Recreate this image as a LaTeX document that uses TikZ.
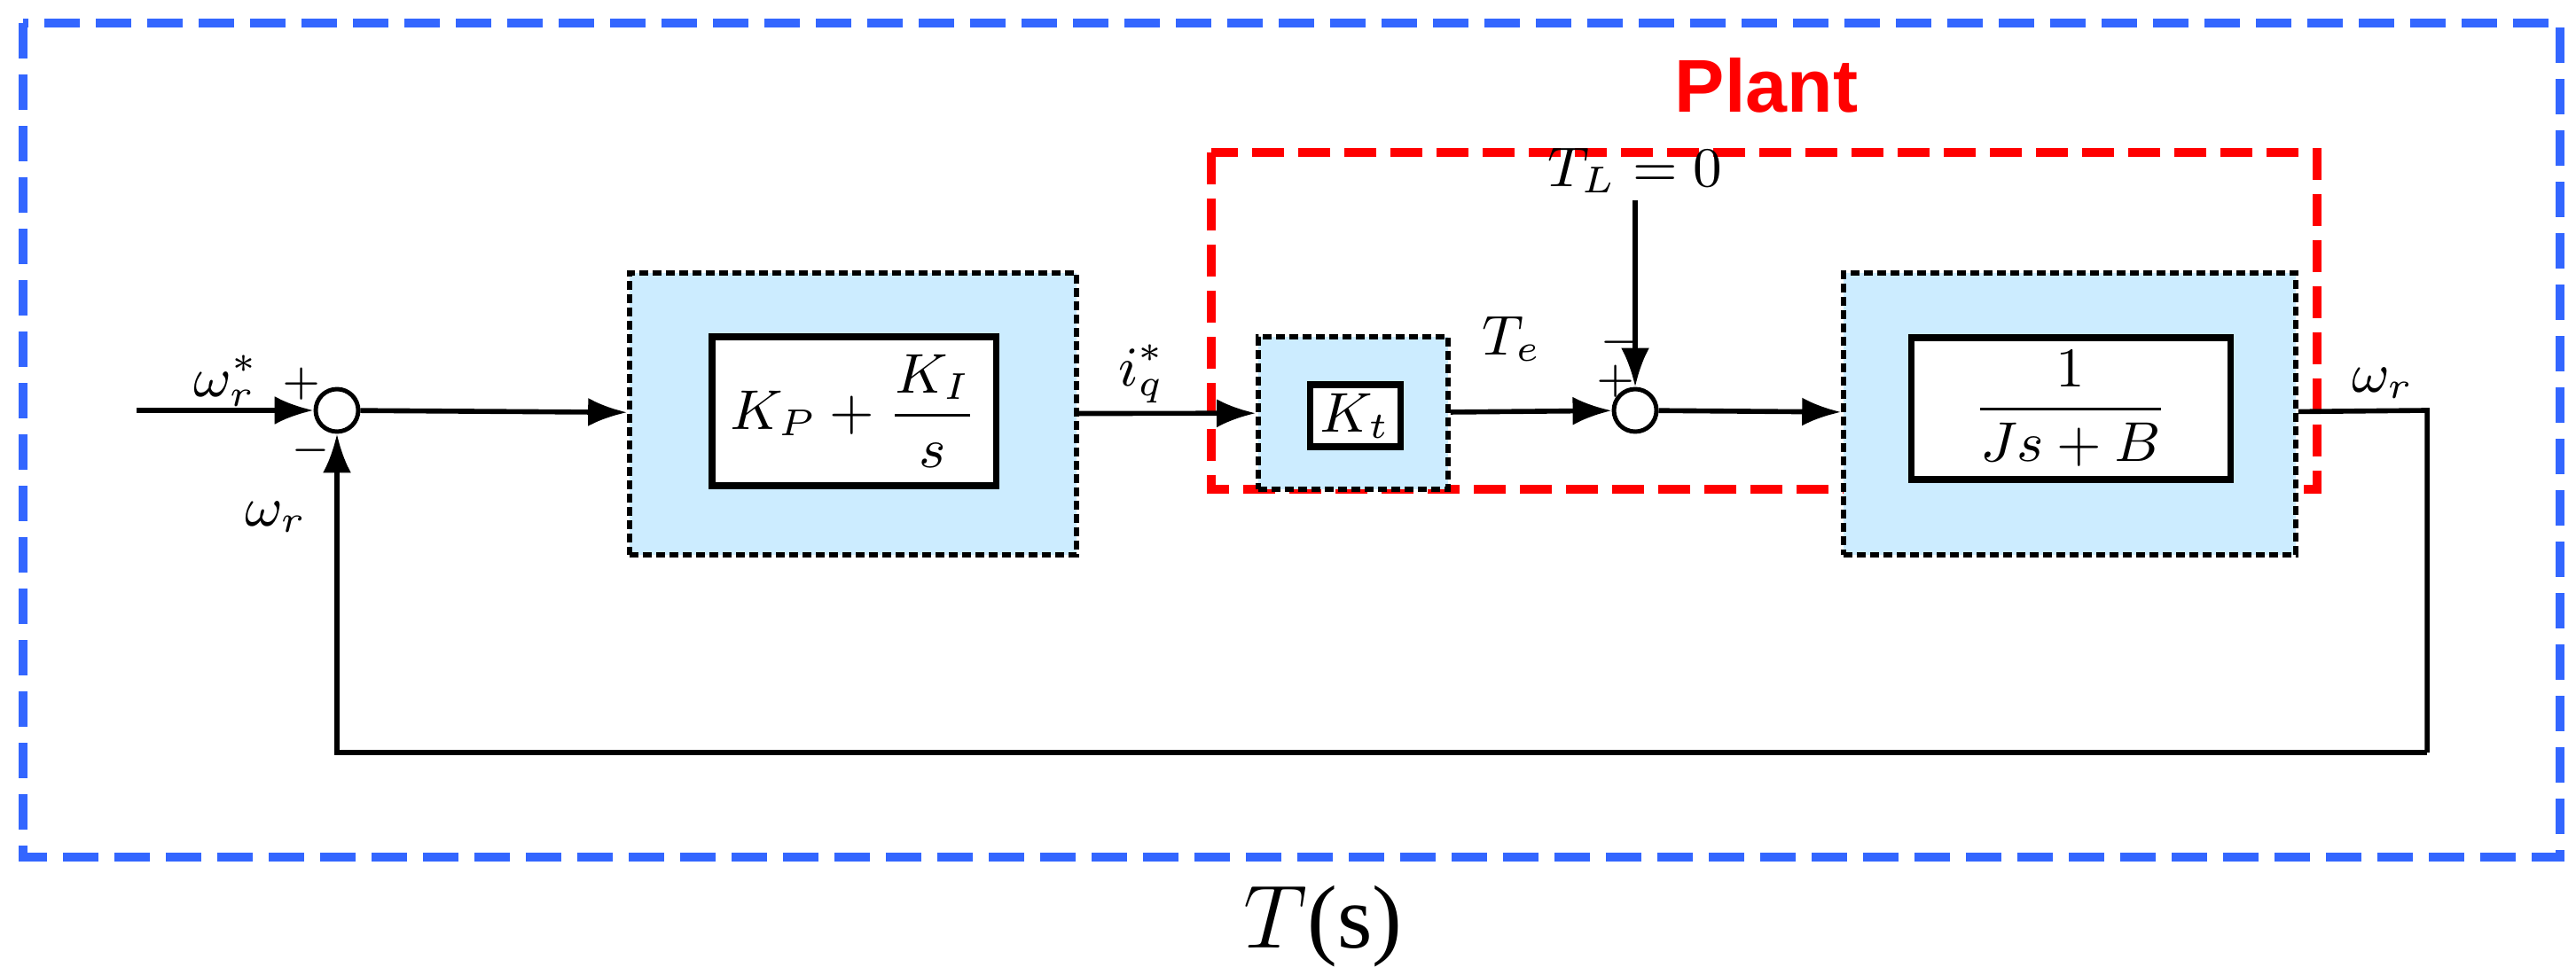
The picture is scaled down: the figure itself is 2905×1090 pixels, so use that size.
\documentclass[tikz,border=0pt]{standalone}
\usepackage{fontspec}
\setmainfont{Liberation Serif}
\newfontfamily\plantfont{Liberation Sans}
\usetikzlibrary{arrows.meta,calc}
\definecolor{boxblue}{RGB}{204,236,255}
\definecolor{frameblue}{RGB}{51,102,255}
\definecolor{plantred}{RGB}{255,0,0}
\tikzset{
  outer/.style={draw,fill=boxblue,line width=0.8pt,dash pattern=on 0.5mm off 0.25mm,
    inner sep=0pt},
  inner/.style={draw,fill=white,line width=1pt,inner sep=0pt,font=\small},
  sum/.style={draw,circle,fill=white,line width=0.7pt,minimum size=2.4mm,inner sep=0pt},
  sig/.style={-{Latex[length=2.2mm,width=1.6mm]},line width=0.8pt},
  lbl/.style={font=\small,inner sep=1pt},
  sgn/.style={font=\scriptsize,inner sep=0pt}
}
\begin{document}
\begin{tikzpicture}[x=0.05mm,y=-0.05mm]
\useasboundingbox (0,0) rectangle (2905,1090);
% frames
\draw [frameblue,line width=1.4pt,dash pattern=on 2mm off 0.9mm] (26,26) rectangle (2887,967);
\node (ts) [font=\Large] at (1492,1045) {$T$(s)};
\draw [plantred,line width=1.4pt,dash pattern=on 1.8mm off 0.8mm] (1366,172) rectangle (2613,552);
\node (plant) [plantred,font=\plantfont\bfseries\large] at (1992,96) {Plant};
% blocks
\node (pio) [outer,minimum width=25.2mm,minimum height=15.9mm] at (962,467) {};
\node (pi) [inner,minimum width=16mm,minimum height=8.4mm] at (963,464)
  {$\displaystyle K_P+\frac{K_I}{s}$};
\node (kto) [outer,minimum width=10.7mm,minimum height=8.6mm] at (1526,466) {};
\node (kt) [inner,minimum width=5.1mm,minimum height=3.5mm] at (1528,469) {$K_t$};
\node (mo) [outer,minimum width=25.5mm,minimum height=15.9mm] at (2334,467) {};
\node (m) [inner,minimum width=18mm,minimum height=8mm] at (2335,461)
  {$\displaystyle\frac{1}{Js+B}$};
% summers
\node (s1) [sum] at (380,463) {};
\node (s2) [sum] at (1844,463) {};
\coordinate (in) at (154,463);
\coordinate (out) at (2737,463);
\coordinate (fb) at (2737,849);
\node (tl) [lbl] at (1844,192) {$T_L=0$};
% signals
\draw [sig] (in) -- (s1);
\draw [sig] (s1) -- (pio);
\draw [sig] (pio) -- (kto);
\draw [sig] (kto) -- (s2);
\draw [sig] (s2) -- (mo);
\draw [sig] (tl) -- (s2);
\draw [line width=0.8pt] (mo) -- (out) -- (fb);
\draw [sig] (fb) -| (s1);
% labels
\node [lbl] at (255,430) {$\omega_r^*$};
\node [sgn] at (340,433) {$+$};
\node [sgn] at (350,508) {$-$};
\node [lbl] at (311,583) {$\omega_r$};
\node [lbl] at (1288,422) {$i_q^*$};
\node [lbl] at (1705,382) {$T_e$};
\node [sgn] at (1826,386) {$-$};
\node [sgn] at (1822,430) {$+$};
\node [lbl] at (2687,432) {$\omega_r$};
\end{tikzpicture}
\end{document}
